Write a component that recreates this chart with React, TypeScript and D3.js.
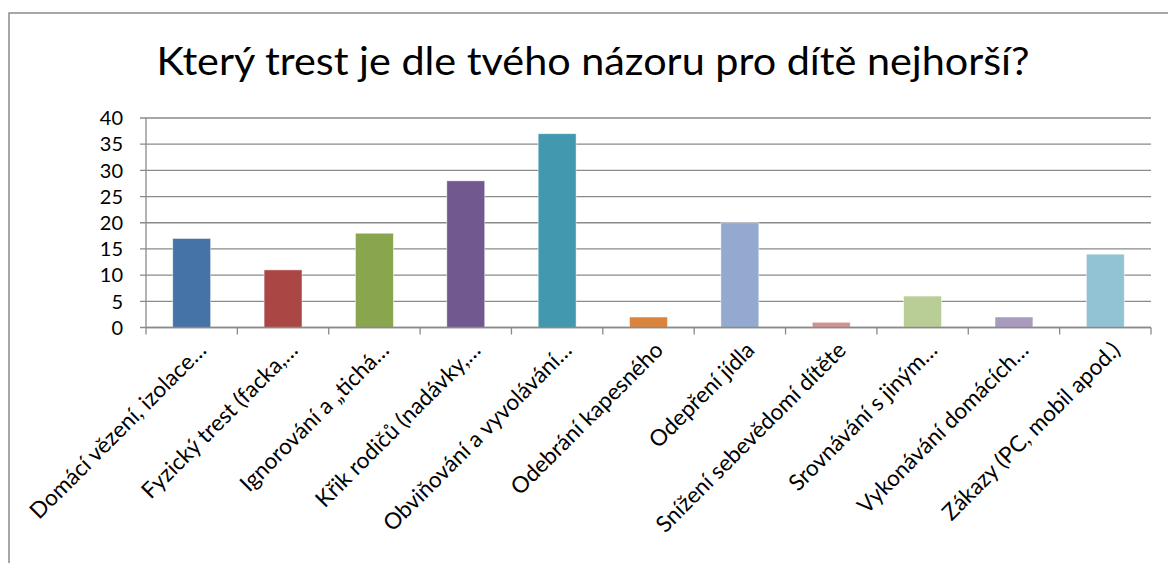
import React from 'react';
import * as d3 from 'd3';

// Chart data
const categories = [
  'Domácí vězení, izolace…',
  'Fyzický trest (facka,…',
  'Ignorování a „tichá…',
  'Křik rodičů (nadávky,…',
  'Obviňování a vyvolávání…',
  'Odebrání kapesného',
  'Odepření jídla',
  'Snížení sebevědomí dítěte',
  'Srovnávání s jiným…',
  'Vykonávání domácích…',
  'Zákazy (PC, mobil apod.)',
];
const values = [17, 11, 18, 28, 37, 2, 20, 1, 6, 2, 14];
const yTicks = [0, 5, 10, 15, 20, 25, 30, 35, 40];
const barColors = [
  '#4572A7', '#AA4643', '#89A54E', '#71588F', '#4198AF', '#DB843D',
  '#93A9CF', '#D19392', '#B9CD96', '#A99BBD', '#91C3D5',
];
const title = 'Který trest je dle tvého názoru pro dítě nejhorší?';

const W = 1168;
const H = 563;
const plot = { left: 146, right: 1151, top: 118, bottom: 327.5 };
const font = 'Lato, "Open Sans", sans-serif';
const gridColor = '#8a8a8a';

export default function App() {
  const x = d3
    .scaleBand()
    .domain(categories)
    .range([plot.left, plot.right])
    .paddingInner(0)
    .paddingOuter(0);

  const y = d3.scaleLinear().domain([0, 40]).range([plot.bottom, plot.top]);

  const barW = x.bandwidth() * 0.415;

  return (
    <svg
      width={W}
      height={H}
      style={{ position: 'absolute', left: 0, top: 0, background: '#fff' }}
      fontFamily={font}
    >
      {/* chart frame */}
      <rect x={9} y={13} width={W + 10} height={H + 10} fill="#fff" stroke="#8a8a8a" strokeWidth={1.5} />

      <text
        x={593}
        y={75}
        textAnchor="middle"
        fontSize={39}
        fill="#000"
        textLength={873}
        lengthAdjust="spacingAndGlyphs"
      >
        {title}
      </text>

      {/* gridlines + y ticks */}
      {yTicks.map((t) => (
        <g key={t}>
          <line
            x1={plot.left - 6}
            x2={plot.right}
            y1={y(t)}
            y2={y(t)}
            stroke={gridColor}
            strokeWidth={1.3}
          />
          <text
            x={123}
            y={y(t)}
            dy="0.36em"
            textAnchor="end"
            fontSize={20}
            fill="#000"
          >
            {t}
          </text>
        </g>
      ))}

      {/* y axis line */}
      <line x1={plot.left} x2={plot.left} y1={plot.top} y2={plot.bottom} stroke={gridColor} strokeWidth={1.3} />

      {/* bars */}
      {values.map((v, i) => {
        const cx = (x(categories[i]) as number) + x.bandwidth() / 2;
        return (
          <rect
            key={i}
            x={cx - barW / 2}
            y={y(v)}
            width={barW}
            height={y(0) - y(v)}
            fill={barColors[i]}
            stroke="#ffffff"
            strokeOpacity={0.6}
            strokeWidth={0.8}
          />
        );
      })}

      {/* x axis + category ticks */}
      <line x1={plot.left} x2={plot.right} y1={plot.bottom} y2={plot.bottom} stroke={gridColor} strokeWidth={1.3} />
      {d3.range(categories.length + 1).map((i) => {
        const tx = plot.left + i * x.step();
        return (
          <line key={i} x1={tx} x2={tx} y1={plot.bottom} y2={plot.bottom + 7} stroke={gridColor} strokeWidth={1.3} />
        );
      })}

      {/* rotated category labels */}
      {categories.map((c) => {
        const cx = (x(c) as number) + x.bandwidth() / 2;
        return (
          <text
            key={c}
            transform={`translate(${cx + 4},${plot.bottom + 12}) rotate(-45)`}
            textAnchor="end"
            dy="0.76em"
            fontSize={22.5}
            fill="#000"
          >
            {c}
          </text>
        );
      })}
    </svg>
  );
}
